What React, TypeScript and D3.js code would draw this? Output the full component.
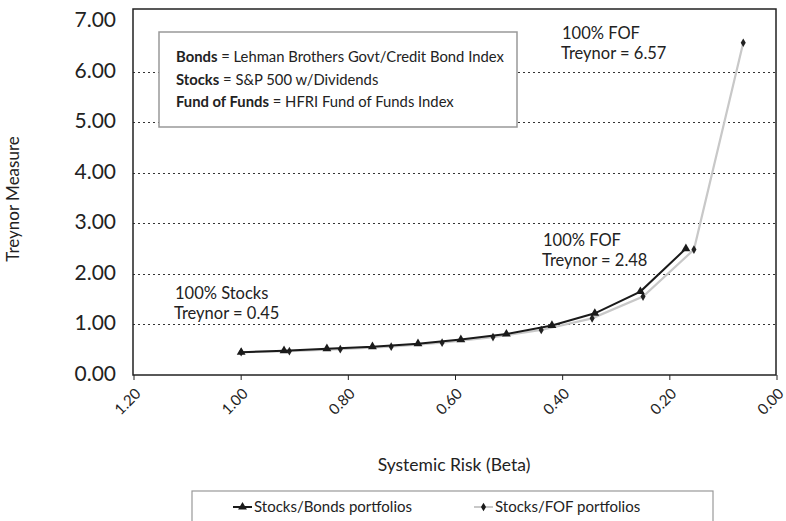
import { useEffect, useRef } from "react";
import * as d3 from "d3";

// Systemic risk (beta) and Treynor measure
const stocksBondsBeta = [1.0, 0.92, 0.84, 0.755, 0.67, 0.59, 0.505, 0.42, 0.34, 0.255, 0.17];
const stocksBondsTreynor = [0.45, 0.48, 0.52, 0.56, 0.62, 0.7, 0.81, 0.98, 1.22, 1.65, 2.5];
const stocksFofBeta = [1.0, 0.91, 0.815, 0.72, 0.625, 0.53, 0.44, 0.345, 0.25, 0.155, 0.063];
const stocksFofTreynor = [0.45, 0.47, 0.51, 0.56, 0.64, 0.75, 0.89, 1.12, 1.55, 2.48, 6.57];

const yTicks = [0, 1, 2, 3, 4, 5, 6, 7];
const xTicks = [1.2, 1.0, 0.8, 0.6, 0.4, 0.2, 0.0];

const seriesNames = ["Stocks/Bonds portfolios", "Stocks/FOF portfolios"];

const FONT = "Lato, 'Open Sans', sans-serif";

export default function App() {
  const svgRef = useRef<SVGSVGElement>(null);
  const width = 786;
  const height = 521;

  useEffect(() => {
    document.body.style.margin = "0";
    if (!svgRef.current) return;
    const svg = d3.select(svgRef.current);
    svg.selectAll("*").remove();

    // plot frame
    const left = 133;
    const right = 776;
    const top = 9;
    const bottom = 375;

    const x = d3.scaleLinear().domain([1.2, 0]).range([134, 777]);
    const y = d3.scaleLinear().domain([0, 7]).range([375, 21]);

    svg.append("rect").attr("width", width).attr("height", height).attr("fill", "#fff");

    // gridlines (dotted)
    svg
      .append("g")
      .selectAll("line")
      .data(yTicks.filter((d) => d > 0 && d < 7))
      .join("line")
      .attr("x1", left)
      .attr("x2", right)
      .attr("y1", (d) => Math.round(y(d)) + 0.5)
      .attr("y2", (d) => Math.round(y(d)) + 0.5)
      .attr("stroke", "#333")
      .attr("stroke-width", 1)
      .attr("stroke-dasharray", "2,3");

    // frame
    svg
      .append("rect")
      .attr("x", left)
      .attr("y", top)
      .attr("width", right - left)
      .attr("height", bottom - top)
      .attr("fill", "none")
      .attr("stroke", "#222")
      .attr("stroke-width", 1.5);

    // y tick labels
    svg
      .append("g")
      .selectAll("text")
      .data(yTicks)
      .join("text")
      .attr("x", 116)
      .attr("y", (d) => y(d) + 6)
      .attr("text-anchor", "end")
      .attr("font-family", FONT)
      .attr("font-size", 21)
      .attr("fill", "#222")
      .text((d) => d.toFixed(2));

    // x ticks
    svg
      .append("g")
      .selectAll("line")
      .data(xTicks)
      .join("line")
      .attr("x1", (d) => x(d))
      .attr("x2", (d) => x(d))
      .attr("y1", bottom)
      .attr("y2", bottom + 5)
      .attr("stroke", "#222")
      .attr("stroke-width", 1);

    // x tick labels, rotated
    svg
      .append("g")
      .selectAll("text")
      .data(xTicks)
      .join("text")
      .attr("transform", (d) => `translate(${x(d) + 5},${bottom + 17}) rotate(-45)`)
      .attr("text-anchor", "end")
      .attr("dominant-baseline", "middle")
      .attr("font-family", FONT)
      .attr("font-size", 15)
      .attr("fill", "#222")
      .text((d) => d.toFixed(2));

    // axis titles
    svg
      .append("text")
      .attr("transform", `translate(19,199) rotate(-90)`)
      .attr("text-anchor", "middle")
      .attr("font-family", FONT)
      .attr("font-size", 17)
      .attr("fill", "#222")
      .text("Treynor Measure");

    svg
      .append("text")
      .attr("x", 454)
      .attr("y", 471)
      .attr("text-anchor", "middle")
      .attr("font-family", FONT)
      .attr("font-size", 17.5)
      .attr("fill", "#222")
      .text("Systemic Risk (Beta)");

    const line = d3
      .line<[number, number]>()
      .x((d) => x(d[0]))
      .y((d) => y(d[1]));

    const fofPts = stocksFofBeta.map((b, i) => [b, stocksFofTreynor[i]] as [number, number]);
    const bondPts = stocksBondsBeta.map((b, i) => [b, stocksBondsTreynor[i]] as [number, number]);

    const triangle = d3.symbol().type(d3.symbolTriangle).size(34);
    const diamond = d3.symbol().type(d3.symbolDiamond).size(22);

    // Stocks/FOF (gray)
    svg
      .append("path")
      .datum(fofPts)
      .attr("d", line)
      .attr("fill", "none")
      .attr("stroke", "#c8c8c8")
      .attr("stroke-width", 2.2);
    svg
      .append("g")
      .selectAll("path")
      .data(fofPts)
      .join("path")
      .attr("transform", (d) => `translate(${x(d[0])},${y(d[1])})`)
      .attr("d", diamond)
      .attr("fill", "#222");

    // Stocks/Bonds (black)
    svg
      .append("path")
      .datum(bondPts)
      .attr("d", line)
      .attr("fill", "none")
      .attr("stroke", "#1a1a1a")
      .attr("stroke-width", 2);
    svg
      .append("g")
      .selectAll("path")
      .data(bondPts)
      .join("path")
      .attr("transform", (d) => `translate(${x(d[0])},${y(d[1])})`)
      .attr("d", triangle)
      .attr("fill", "#1a1a1a");

    // definitions box
    svg
      .append("rect")
      .attr("x", 159)
      .attr("y", 32)
      .attr("width", 358)
      .attr("height", 95)
      .attr("fill", "#fff")
      .attr("stroke", "#999")
      .attr("stroke-width", 1.5);

    const defs = [
      ["Bonds", " = Lehman Brothers Govt/Credit Bond Index"],
      ["Stocks", " = S&P 500 w/Dividends"],
      ["Fund of Funds", " = HFRI Fund of Funds Index"],
    ];
    defs.forEach(([b, rest], i) => {
      const t = svg
        .append("text")
        .attr("x", 176)
        .attr("y", 62 + i * 22.5)
        .attr("font-family", FONT)
        .attr("font-size", 14.8)
        .attr("fill", "#222");
      t.append("tspan").attr("font-weight", "bold").text(b);
      t.append("tspan").text(rest);
    });

    // annotations
    const notes = [
      { x: 175, y: 299, lines: ["100% Stocks", "Treynor = 0.45"] },
      { x: 543, y: 246, lines: ["100% FOF", "Treynor = 2.48"] },
      { x: 562, y: 39, lines: ["100% FOF", "Treynor = 6.57"] },
    ];
    notes.forEach((n) => {
      n.lines.forEach((s, i) => {
        svg
          .append("text")
          .attr("x", n.x + (i === 1 ? -1 : 0))
          .attr("y", n.y + i * 20)
          .attr("font-family", FONT)
          .attr("font-size", 16.5)
          .attr("fill", "#222")
          .text(s);
      });
    });

    // legend
    svg
      .append("rect")
      .attr("x", 192)
      .attr("y", 491)
      .attr("width", 521)
      .attr("height", 40)
      .attr("fill", "#fff")
      .attr("stroke", "#999")
      .attr("stroke-width", 1.2);

    const legendItems = [
      { x: 233, color: "#1a1a1a", sym: triangle, name: seriesNames[0] },
      { x: 474, color: "#c8c8c8", sym: diamond, name: seriesNames[1] },
    ];
    legendItems.forEach((it) => {
      const ly = 507;
      svg
        .append("line")
        .attr("x1", it.x)
        .attr("x2", it.x + 19)
        .attr("y1", ly)
        .attr("y2", ly)
        .attr("stroke", it.color)
        .attr("stroke-width", 2);
      svg
        .append("path")
        .attr("transform", `translate(${it.x + 9.5},${ly})`)
        .attr("d", it.sym)
        .attr("fill", "#1a1a1a");
      svg
        .append("text")
        .attr("x", it.x + 21)
        .attr("y", ly + 5)
        .attr("font-family", FONT)
        .attr("font-size", 15)
        .attr("fill", "#222")
        .text(it.name);
    });
  }, []);

  return (
    <svg
      ref={svgRef}
      width={width}
      height={height}
      viewBox={`0 0 ${width} ${height}`}
      style={{ display: "block" }}
    />
  );
}
